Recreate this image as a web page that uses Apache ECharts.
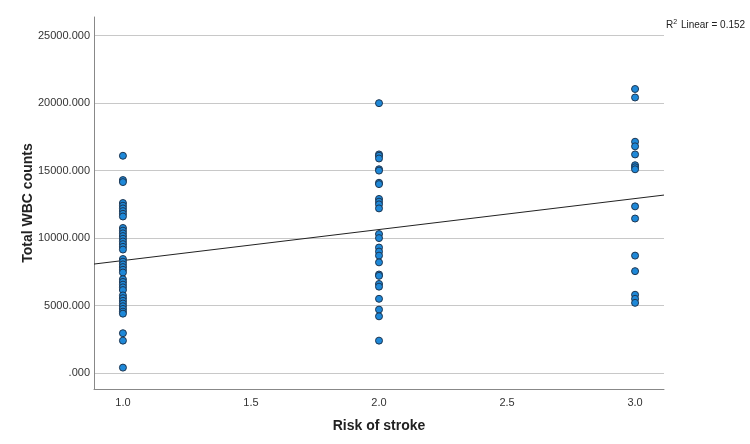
<!DOCTYPE html>
<html>
<head>
<meta charset="utf-8">
<script src="https://cdn.jsdelivr.net/npm/echarts@6/dist/echarts.min.js"></script>
<style>
html,body{margin:0;padding:0;background:#fff;}
#main{width:750px;height:444px;}
</style>
</head>
<body>
<div id="main"></div>
<script>
var chart = echarts.init(document.getElementById("main"))

// WBC counts per risk group
var risk1 = [16100, 14300, 14150, 12600, 12400, 12200, 12000, 11800, 11600,
  10750, 10550, 10350, 10150, 9950, 9750, 9550, 9350, 9150,
  8450, 8250, 8050, 7850, 7650, 7450, 6950, 6750, 6550, 6350, 6150,
  5750, 5550, 5350, 5150, 4950, 4750, 4550, 4400, 2950, 2400, 400]
var risk2 = [20000, 16200, 16100, 15900, 15100, 15000, 14100, 14000,
  12900, 12700, 12500, 12200, 10300, 10000, 9300, 9000, 8700, 8200,
  7300, 7200, 6600, 6400, 5500, 4700, 4200, 2400]
var risk3 = [21050, 20420, 17140, 16800, 16200, 15400, 15250, 15100,
  12350, 11450, 8700, 7550, 5800, 5500, 5200]

var xTicks = [1.0, 1.5, 2.0, 2.5, 3.0]
var yTicks = [0, 5000, 10000, 15000, 20000, 25000]
var rSquared = '0.152'

var xMin = 0.887, xMax = 3.113
var yMin = -1185, yMax = 26385

var points = []
risk1.forEach(function(v){ points.push([1, v]) })
risk2.forEach(function(v){ points.push([2, v]) })
risk3.forEach(function(v){ points.push([3, v]) })

// least squares fit line
var n = points.length, sx = 0, sy = 0, sxx = 0, sxy = 0
points.forEach(function(p){
  sx += p[0]; sy += p[1]; sxx += p[0]*p[0]; sxy += p[0]*p[1]
})
var slope = (n*sxy - sx*sy) / (n*sxx - sx*sx)
var icpt = (sy - slope*sx) / n
var fitLine = [[xMin, icpt + slope*xMin], [xMax, icpt + slope*xMax]]

var font = 'Liberation Sans, Arial, sans-serif'

var option = {
  animation: false,
  backgroundColor: '#fff',
  grid: {
    left: 94,
    right: 86,
    top: 17,
    bottom: 55
  },
  xAxis: {
    type: 'value',
    min: xMin,
    max: xMax,
    name: 'Risk of stroke',
    nameLocation: 'middle',
    nameGap: 30,
    nameTextStyle: {fontFamily: font, fontSize: 14, fontWeight: 'bold', color: '#222'},
    axisLine: {show: true, onZero: false, lineStyle: {color: '#888', width: 1}},
    axisTick: {show: false, customValues: xTicks},
    axisLabel: {
      customValues: xTicks,
      fontFamily: font, fontSize: 11, color: '#333', margin: 8,
      formatter: function(v){ return v.toFixed(1) }
    },
    splitLine: {show: false}
  },
  yAxis: {
    type: 'value',
    min: yMin,
    max: yMax,
    name: 'Total WBC counts',
    nameLocation: 'middle',
    nameGap: 59,
    nameMoveOverlap: false,
    nameTextStyle: {fontFamily: font, fontSize: 14, fontWeight: 'bold', color: '#222'},
    axisLine: {show: true, onZero: false, lineStyle: {color: '#888', width: 1}},
    axisTick: {show: false, customValues: yTicks},
    axisLabel: {
      customValues: yTicks,
      fontFamily: font, fontSize: 11, color: '#333', margin: 4,
      formatter: function(v){ return v === 0 ? '.000' : v.toFixed(3) }
    },
    splitLine: {show: true, lineStyle: {color: '#c8c8c8', width: 1}}
  },
  graphic: [{
    type: 'text',
    left: 666,
    top: 19,
    style: {
      text: 'R{s|2} Linear = ' + rSquared,
      fontFamily: font,
      fontSize: 10,
      fill: '#222',
      rich: {
        s: {fontSize: 7, verticalAlign: 'top', padding: [0, 1, 6, 0], fontFamily: font, fill: '#222'}
      }
    }
  }],
  series: [
    {
      name: 'fit',
      type: 'line',
      data: fitLine,
      symbol: 'none',
      lineStyle: {color: '#222', width: 1},
      z: 3
    },
    {
      name: 'WBC',
      type: 'scatter',
      data: points,
      symbolSize: 7,
      itemStyle: {color: '#1e88d8', borderColor: '#1d3550', borderWidth: 1, opacity: 1},
      z: 4
    }
  ]
}

chart.setOption(option)
</script>
</body>
</html>
